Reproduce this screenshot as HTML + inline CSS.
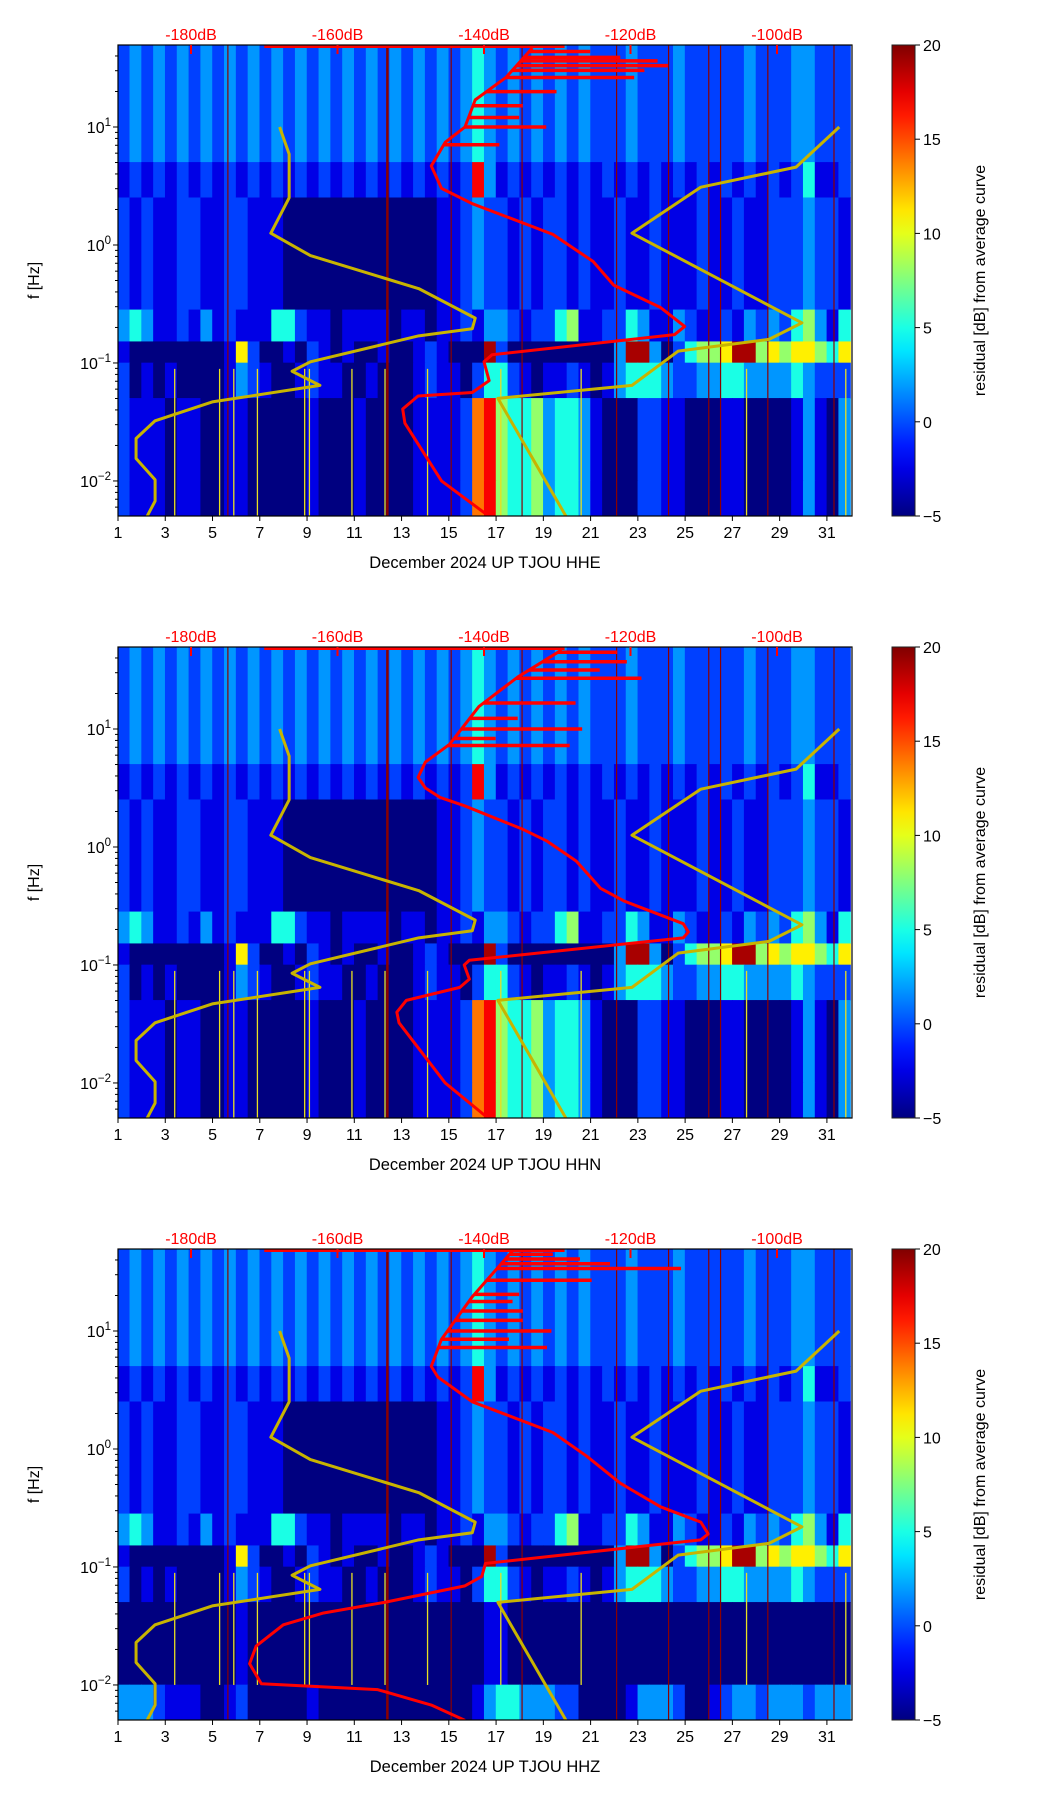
<!DOCTYPE html>
<html><head><meta charset="utf-8"><style>
body{margin:0;background:#fff;}
svg{display:block;font-family:"Liberation Sans","DejaVu Sans",sans-serif;}
</style></head><body>
<svg id="fig" width="1052" height="1806" viewBox="0 0 1052 1806" xmlns="http://www.w3.org/2000/svg">
<defs><linearGradient id="jet" x1="0" y1="1" x2="0" y2="0"></linearGradient></defs>
</svg>
<script>
// ---- data ----
const dayTicks = [1,3,5,7,9,11,13,15,17,19,21,23,25,27,29,31];
const dbTicks = [-180,-160,-140,-120,-100];
const cbTicks = [-5,0,5,10,15,20];
const yMajor = [1,0,-1,-2];
const panelNames = ["HHE","HHN","HHZ"];
const bandEdges = [1.695,0.70,0.40,-0.55,-0.82,-1.0,-1.3,-2.0,-2.297];
// code -> residual dB
const codeValues = [-5,-2.5,-0.3,1.8,5,8,11,14,17,19];
// half-day columns (62)
const rowsHHE = [
"23232323232323232323232323232343232323232223222322222322233222",
"12121212121212121212121212121283121212121212121212121212124112",
"21211221122111000000000000011232212122121121121112112112223221",
"34311213121114421101111011011213321224511224311321121323245314",
"10000000016200102101001001210009200000000039930245569956566546",
"20101000013210012110010001211024421011210134443223344333343222",
"21110110011000001000100001111278544534431000221100011000013103",
"21110110011000001000100001111278544534431000221100011000013103"];
const rowsHHZbottom = [
"00000000001000000000000000000001100000000000000000000000000000",
"33321110012000001000000000000013443332200001333200123323332333"];
const gapDays = [5.65,12.4,15.1,18.1,22.1,24.3,26.0,26.5,28.5,31.3];
const streakDays = [3.4,5.3,5.9,6.9,8.9,9.1,10.9,12.3,14.1,17.2,20.6,27.6,31.8];
// Peterson NLNM / NHNM (log10 f, dB)
const nlnmLogf = [1.00,0.77,0.40,0.10,-0.09,-0.37,-0.62,-0.71,-0.77,-0.99,-1.07,-1.19,-1.33,-1.49,-1.64,-1.81,-1.99,-2.17,-2.30];
const nlnmDb = [-167.9,-166.6,-166.6,-169.1,-163.7,-148.9,-141.2,-141.6,-148.9,-163.7,-166.2,-162.4,-177.1,-184.9,-187.5,-187.5,-184.9,-184.9,-186.0];
const nhnmLogf = [1.00,0.66,0.49,0.10,-0.66,-0.80,-0.90,-1.19,-1.30,-2.30];
const nhnmDb = [-91.5,-97.4,-110.4,-119.8,-96.6,-101.1,-113.5,-119.8,-138.1,-128.8];
// Median PSD curves
const redLogfHHE = [1.67,1.42,1.23,1.00,0.87,0.67,0.48,0.35,0.09,-0.14,-0.34,-0.53,-0.69,-0.76,-0.93,-0.99,-1.15,-1.25,-1.28,-1.39,-1.51,-2.00,-2.30];
const redDbHHE = [-133.4,-137.0,-141.2,-142.6,-145.3,-147.2,-145.8,-141.6,-130.6,-125.1,-122.3,-115.9,-112.6,-114.0,-138.9,-140.0,-139.3,-141.6,-149.0,-151.1,-150.8,-145.8,-139.3];
const spikeLogfHHE = [1.64,1.59,1.56,1.52,1.48,1.42,1.30,1.18,1.08,1.00,0.85];
const spikeDbHHE = [-125.5,-121.4,-116.3,-114.9,-118.1,-119.5,-130.1,-134.7,-135.2,-131.5,-137.9];
const redLogfHHN = [1.67,1.44,1.19,0.87,0.72,0.59,0.50,0.42,0.35,0.15,0.05,-0.12,-0.35,-0.46,-0.65,-0.72,-0.77,-0.96,-1.00,-1.12,-1.19,-1.30,-1.40,-1.49,-2.00,-2.30];
const redDbHHN = [-129.4,-135.4,-140.7,-144.7,-148.0,-149.0,-148.0,-146.0,-142.7,-134.7,-131.4,-127.4,-124.1,-120.8,-112.8,-112.1,-112.8,-142.0,-142.7,-142.0,-143.3,-150.6,-151.9,-151.6,-145.3,-139.4];
const spikeLogfHHN = [1.65,1.57,1.50,1.43,1.22,1.09,1.00,0.92,0.86];
const spikeDbHHN = [-121.8,-120.5,-124.2,-118.5,-127.5,-135.4,-126.6,-138.4,-128.3];
const redLogfHHZ = [1.68,1.29,0.93,0.70,0.61,0.40,0.14,-0.06,-0.29,-0.49,-0.62,-0.72,-0.77,-0.97,-1.08,-1.16,-1.30,-1.39,-1.49,-1.67,-1.82,-1.99,-2.04,-2.17,-2.30];
const redDbHHZ = [-136.1,-141.6,-145.8,-147.2,-146.3,-141.6,-130.6,-126.0,-121.4,-115.9,-110.4,-109.4,-110.4,-139.8,-140.3,-142.6,-153.6,-161.9,-167.4,-171.1,-172.0,-170.4,-154.5,-147.2,-142.6];
const spikeLogfHHZ = [1.65,1.61,1.57,1.53,1.43,1.31,1.25,1.17,1.09,1.00,0.93,0.86];
const spikeDbHHZ = [-130.6,-126.9,-122.8,-113.1,-125.3,-135.2,-136.1,-134.7,-134.7,-130.8,-136.6,-131.4];
const topLineDb = [-170,-129];

// ---- helpers ----
const NS="http://www.w3.org/2000/svg";
const svg=document.getElementById('fig');
const X0=118, X1=852, PH=471, LOGTOP=1.695, LOGBOT=-2.297;
const tops=[45,647,1249];
function xDay(d){return X0+(d-1)*23.63;}
function xDb(db){return 191+(db+180)*7.325;}
function yF(top,lf){return top+(LOGTOP-lf)*(PH/(LOGTOP-LOGBOT));}
function jet(v){const t=Math.max(0,Math.min(1,(v+5)/25));
 const c=x=>Math.round(255*Math.max(0,Math.min(1,1.5-Math.abs(x))));
 return `rgb(${c(4*t-3)},${c(4*t-2)},${c(4*t-1)})`;}
function el(tag,attrs,parent){const e=document.createElementNS(NS,tag);for(const k in attrs)e.setAttribute(k,attrs[k]);(parent||svg).appendChild(e);return e;}
function curveAt(lf,lfs,dbs){for(let i=0;i<lfs.length-1;i++){const a=lfs[i],b=lfs[i+1];if((lf<=a&&lf>=b)||(lf>=a&&lf<=b)){const t=(lf-a)/(b-a||1);return dbs[i]+t*(dbs[i+1]-dbs[i]);}}return dbs[0];}

const grad=document.getElementById('jet');
for(let i=0;i<=20;i++){el('stop',{offset:(i/20),'stop-color':jet(-5+25*i/20)},grad);}

const redSets=[[redLogfHHE,redDbHHE,spikeLogfHHE,spikeDbHHE],[redLogfHHN,redDbHHN,spikeLogfHHN,spikeDbHHN],[redLogfHHZ,redDbHHZ,spikeLogfHHZ,spikeDbHHZ]];

tops.forEach((top,p)=>{
 const g=el('g',{});
 
 
 const clipId='clip'+p;
 const cp=el('clipPath',{id:clipId},g); el('rect',{x:X0,y:top,width:X1-X0,height:PH},cp);
 const hm=el('g',{'clip-path':`url(#${clipId})`},g);
 
 
 const rows=rowsHHE.slice();
 if(p===2){rows[6]=rowsHHZbottom[0];rows[7]=rowsHHZbottom[1];}
 rows.forEach((r,ri)=>{
  const y0=yF(top,bandEdges[ri]), y1=yF(top,bandEdges[ri+1]);
  for(let c=0;c<r.length;c++){
   const v=codeValues[+r[c]];
   const d=1+c*0.5;
   const cell=el('rect',{x:xDay(d)-0.3,y:y0-0.3,width:xDay(d+0.5)-xDay(d)+0.6,height:y1-y0+0.6,fill:jet(v)},hm);
   
   
  }
 });
 streakDays.forEach(d=>{const s=el('line',{x1:xDay(d),x2:xDay(d),y1:yF(top,-1.05),y2:yF(top,p===2?-2.0:LOGBOT),stroke:'#e8e020','stroke-width':1.3},hm);
  
  });
 gapDays.forEach(d=>{const s=el('line',{x1:xDay(d),x2:xDay(d),y1:top,y2:top+PH,stroke:'#8b0000','stroke-width':d===12.4?2.5:1.2},hm);
  
  });
 [[nlnmLogf,nlnmDb,'nlnm-curve'],[nhnmLogf,nhnmDb,'nhnm-curve']].forEach(([lf,db,nm])=>{
  const pts=lf.map((l,i)=>xDb(db[i])+','+yF(top,l)).join(' ');
  const pl=el('polyline',{points:pts,fill:'none',stroke:'#c8b400','stroke-width':3,'stroke-linejoin':'round'},hm);
  
  
 });
 const [rl,rd,sl,sd]=redSets[p];
 const tl=el('line',{x1:xDb(topLineDb[0]),x2:xDb(topLineDb[1]),y1:top+1.5,y2:top+1.5,stroke:'#ff0000','stroke-width':3},hm);
 
 
 sl.forEach((l,i)=>{const s=el('line',{x1:xDb(curveAt(l,rl,rd)),x2:xDb(sd[i]),y1:yF(top,l),y2:yF(top,l),stroke:'#ff0000','stroke-width':3.5},hm);
  
  });
 const rp=el('polyline',{points:rl.map((l,i)=>xDb(rd[i])+','+yF(top,l)).join(' '),fill:'none',stroke:'#ff0000','stroke-width':3,'stroke-linejoin':'round'},hm);
 
 
 const fr=el('rect',{x:X0,y:top,width:X1-X0,height:PH,fill:'none',stroke:'#000','stroke-width':1.2},g);
 
 
 dbTicks.forEach(db=>{
  const t=el('text',{x:xDb(db),y:top-5,'text-anchor':'middle','font-size':16,fill:'#ff0000'},g);t.textContent=db+'dB';
  
  
  el('line',{x1:xDb(db),x2:xDb(db),y1:top,y2:top+9,stroke:'#ff0000','stroke-width':2},g);
 });
 dayTicks.forEach(d=>{
  el('line',{x1:xDay(d),x2:xDay(d),y1:top+PH,y2:top+PH+5,stroke:'#000','stroke-width':1},g);
  const t=el('text',{x:xDay(d),y:top+PH+22,'text-anchor':'middle','font-size':16,fill:'#000'},g);t.textContent=d;
  
  
 });
 const xt=el('text',{x:485,y:top+523,'text-anchor':'middle','font-size':16.5,fill:'#000'},g);
 xt.textContent='December 2024 UP TJOU  '+panelNames[p];
 
 
 for(let n=-3;n<=1;n++)for(let k=1;k<=9;k++){const l=n+Math.log10(k);if(l<LOGBOT||l>LOGTOP)continue;
  el('line',{x1:X0,x2:X0-(k===1?5:3),y1:yF(top,l),y2:yF(top,l),stroke:'#000','stroke-width':1},g);}
 yMajor.forEach(n=>{
  const t=el('text',{x:111,y:yF(top,n)+6,'text-anchor':'end','font-size':16,fill:'#000'},g);
  const a=el('tspan',{},t);a.textContent='10';
  const b=el('tspan',{dy:-7,'font-size':11.5},t);b.textContent=n<0?'\u2212'+(-n):String(n);
  
  
 });
 const yt=el('text',{x:0,y:0,'text-anchor':'middle','font-size':16,fill:'#000',transform:`translate(39,${top+PH/2}) rotate(-90)`},g);
 yt.textContent='f [Hz]';
 
 
 const cb=el('rect',{x:892,y:top,width:23,height:PH,fill:'url(#jet)',stroke:'#222','stroke-width':1},g);
 
 
 cbTicks.forEach(v=>{const y=top+PH-(v+5)/25*PH;
  el('line',{x1:915,x2:920,y1:y,y2:y,stroke:'#000'},g);
  const t=el('text',{x:923,y:y+6,'font-size':16,fill:'#000'},g);t.textContent=v<0?'\u2212'+(-v):v;
  
  });
 const ct=el('text',{x:0,y:0,'text-anchor':'middle','font-size':16,fill:'#000',transform:`translate(985,${top+PH/2}) rotate(-90)`},g);
 ct.textContent='residual [dB] from average curve';
 
 
});
</script>
</body></html>
